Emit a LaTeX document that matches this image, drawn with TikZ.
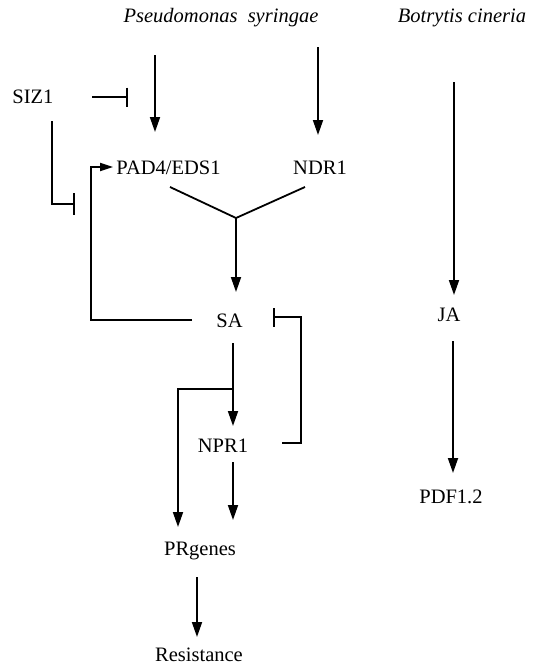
\documentclass[tikz,border=0pt]{standalone}
\usepackage{fontspec}
\setmainfont{Liberation Serif}
\usetikzlibrary{arrows.meta}
\tikzset{
  lbl/.style={anchor=base, inner sep=0pt, font=\fontsize{20.5}{24}\selectfont},
  ln/.style={line width=1.8pt},
  arr/.style={ln, -{Triangle[length=15pt,width=10pt]}},
  sarr/.style={ln, -{Triangle[length=13pt,width=8pt]}},
  inh/.style={ln, -{Bar[width=#1]}},
  inh/.default=19pt
}
\begin{document}
\begin{tikzpicture}[x=1pt,y=-1pt]
\useasboundingbox (0,0) rectangle (534,665);
% labels
\node[lbl] (ps)  at (221,22) {\itshape Pseudomonas\ \ syringae};
\node[lbl] (bc)  at (462,22) {\itshape Botrytis cineria};
\node[lbl] (siz) at (33,103) {SIZ1};
\node[lbl] (pad) at (168.5,174) {PAD4/EDS1};
\node[lbl] (ndr) at (320,174) {NDR1};
\node[lbl] (sa)  at (229.5,327) {SA};
\node[lbl] (npr) at (223,452) {NPR1};
\node[lbl] (pr)  at (200,555) {PRgenes};
\node[lbl] (res) at (199,661) {Resistance};
\node[lbl] (ja)  at (449,321) {JA};
\node[lbl] (pdf) at (451,503) {PDF1.2};
% coordinates
\coordinate (psA) at (155,55);   \coordinate (padT) at (155,132);
\coordinate (psB) at (318,47);   \coordinate (ndrT) at (318,135);
\coordinate (bcA) at (454,82);   \coordinate (jaT)  at (454,295);
\coordinate (jaB) at (453,341);  \coordinate (pdfT) at (453,473);
\coordinate (sizR) at (92,97);   \coordinate (sizX) at (128,97);
\coordinate (sizB) at (52,121);  \coordinate (sizY) at (75,204);
\coordinate (padB) at (170,187); \coordinate (ndrB) at (305,187);
\coordinate (yj) at (236,218);   \coordinate (saT) at (236,292);
\coordinate (saL) at (192,320);  \coordinate (loopC) at (91,320);
\coordinate (padL) at (113,167);
\coordinate (saB) at (233,343);  \coordinate (nprT) at (233,426);
\coordinate (br) at (233,389);   \coordinate (brL) at (178,389);
\coordinate (prL) at (178,527);
\coordinate (nprB) at (233,462); \coordinate (prT) at (233,520);
\coordinate (nprR) at (282,443); \coordinate (saR) at (273,317);
\coordinate (brR) at (301,443);
\coordinate (prB) at (197,577);  \coordinate (resT) at (197,637);
% connectors
\draw[arr] (psA) -- (padT);
\draw[arr] (psB) -- (ndrT);
\draw[arr] (bcA) -- (jaT);
\draw[arr] (jaB) -- (pdfT);
\draw[inh] (sizR) -- (sizX);
\draw[inh=22pt] (sizB) |- (sizY);
\draw[ln] (padB) -- (yj) -- (ndrB);
\draw[arr] (yj) -- (saT);
\draw[sarr] (saL) -- (loopC) |- (padL);
\draw[arr] (saB) -- (nprT);
\draw[arr] (br) -- (brL) -- (prL);
\draw[arr] (nprB) -- (prT);
\draw[inh] (nprR) -- (brR) |- (saR);
\draw[arr] (prB) -- (resT);
\end{tikzpicture}
\end{document}
